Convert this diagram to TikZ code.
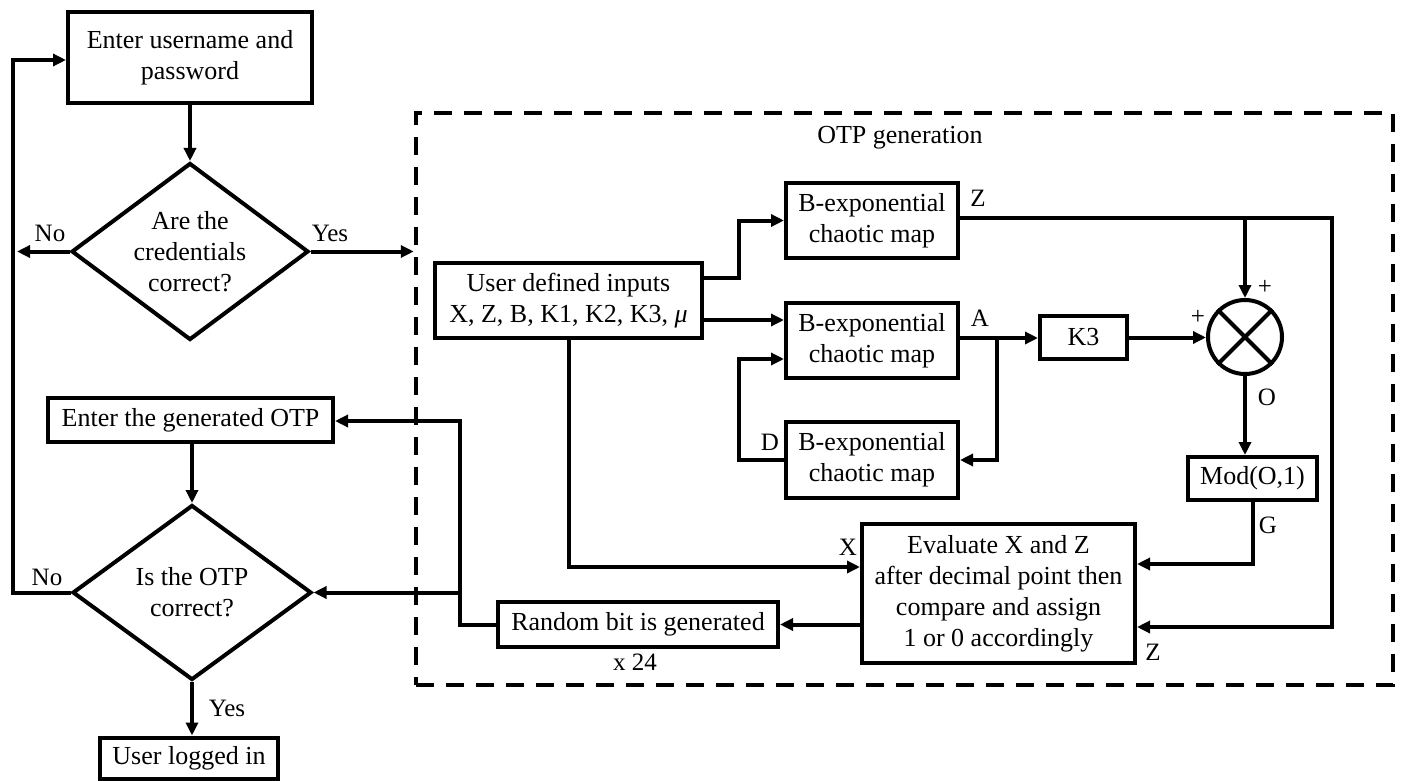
\documentclass[tikz,border=0pt]{standalone}
\usepackage{fontspec}
\setmainfont{Liberation Serif}
\usetikzlibrary{arrows.meta,shapes.geometric}
\begin{document}
\begin{tikzpicture}[x=1pt,y=-1pt,
  every node/.style={font=\fontsize{26}{31}\selectfont},
  lbl/.style={font=\fontsize{25}{30}\selectfont,inner sep=0pt},
  box/.style 2 args={draw,line width=4pt,minimum width=#1,minimum height=#2,inner sep=0pt,align=center},
  dia/.style 2 args={draw,diamond,line width=4pt,minimum width=#1,minimum height=#2,inner sep=0pt},
  conn/.style={line width=4pt},
  arr/.style={conn,-{Triangle[length=13pt,width=12pt]}},
  dashbox/.style={draw,line width=4.5pt,dash pattern=on 18pt off 12pt,inner sep=0pt}
]
\useasboundingbox (0,0) rectangle (1401,781);

% left flow
\node[box={244}{91}] (b1) at (190,57.5) {Enter username and\\password};
\node[dia={237}{177}] (d1) at (190,251.5) {};
\node[align=center] (d1t) at (d1) {Are the\\credentials\\correct?};
\node[box={285}{44}] (otp) at (190.5,420) {Enter the generated OTP};
\node[dia={239}{175}] (d2) at (192,592.5) {};
\node[align=center] (d2t) at (d2) {Is the OTP\\correct?};
\node[box={178}{41}] (log) at (189,758) {User logged in};

% dashed frame
\node[dashbox,minimum width=977,minimum height=572] (frame) at (904.5,399) {};
\node (title) at (900,138) {OTP generation};

% OTP generation blocks
\node[box={267}{75}] (udi) at (568.5,300.5) {User defined inputs\\X, Z, B, K1, K2, K3, \textit{μ}};
\node[box={172}{75}] (m1) at (872,220.5) {B-exponential\\chaotic map};
\node[box={172}{75}] (m2) at (872,340.5) {B-exponential\\chaotic map};
\node[box={172}{76}] (m3) at (872,460) {B-exponential\\chaotic map};
\node[box={87}{43}] (k3) at (1083.5,337.5) {K3};
\node[draw,circle,line width=4pt,minimum size=74pt,inner sep=0pt] (mul) at (1245,337) {};
\draw[conn] (mul.north east) -- (mul.south west) (mul.north west) -- (mul.south east);
\node[box={129}{43}] (mod) at (1252.5,478.5) {Mod(O,1)};
\node[box={273}{139}] (ev) at (998.5,593.5) {Evaluate X and Z\\after decimal point then\\compare and assign\\1 or 0 accordingly};
\node[box={280}{45}] (rb) at (638,624.5) {Random bit is generated};

% coordinates
\coordinate (cL) at (13,60);
\coordinate (noend) at (17,251.5);
\coordinate (j1) at (739,278);
\coordinate (j2) at (739,359);
\coordinate (zr) at (1332,218);
\coordinate (ja) at (997,338);
\coordinate (jl) at (460,421);
\coordinate (jd) at (460,592.5);

% left connectors
\draw[arr] (b1.south) -- (d1.north);
\draw[arr] (d1.west) -- (noend);
\draw[arr] (d1.east) -- (frame.west |- d1.east);
\draw[arr] (d2.west) -| (cL) -- (cL -| b1.west);
\draw[arr] (otp.south -| d2.north) -- (d2.north);
\draw[arr] (d2.south) -- (d2.south |- log.north);

% right connectors
\draw[arr] (udi.east |- j1) -- (j1) |- (m1.west);
\draw[arr] (udi.east |- 0,320) -- (m2.west |- 0,320);
\draw[arr] (m3.west) -| (j2) -- (j2 -| m2.west);
\draw[arr] (udi.south) |- (ev.west |- 0,567);
\draw[arr] (m1.east |- zr) -- (zr) |- (ev.east |- 0,627);
\draw[arr] (mul.north |- zr) -- (mul.north);
\draw[arr] (m2.east |- ja) -- (k3.west |- ja);
\draw[arr] (ja) |- (m3.east);
\draw[arr] (k3.east) -- (mul.west |- k3.east);
\draw[arr] (mul.south) -- (mul.south |- mod.north);
\draw[arr] (mod.south) |- (ev.east |- 0,564);
\draw[arr] (ev.west |- rb.east) -- (rb.east);
\draw[arr] (rb.west) -| (jl) -- (jl -| otp.east);
\draw[arr] (jd) -- (d2.east);

% labels
\node[lbl] at (50,233) {No};
\node[lbl] at (330,233) {Yes};
\node[lbl] at (47,577) {No};
\node[lbl] at (227,708) {Yes};
\node[lbl] at (770,442) {D};
\node[lbl] at (848,547) {X};
\node[lbl] at (978,198) {Z};
\node[lbl] at (980,318) {A};
\node[lbl] at (1265,287) {+};
\node[lbl] at (1198,317) {+};
\node[lbl] at (1267,397) {O};
\node[lbl] at (1268,525) {G};
\node[lbl] at (1153,652) {Z};
\node[lbl] at (635,662) {x 24};
\end{tikzpicture}
\end{document}
